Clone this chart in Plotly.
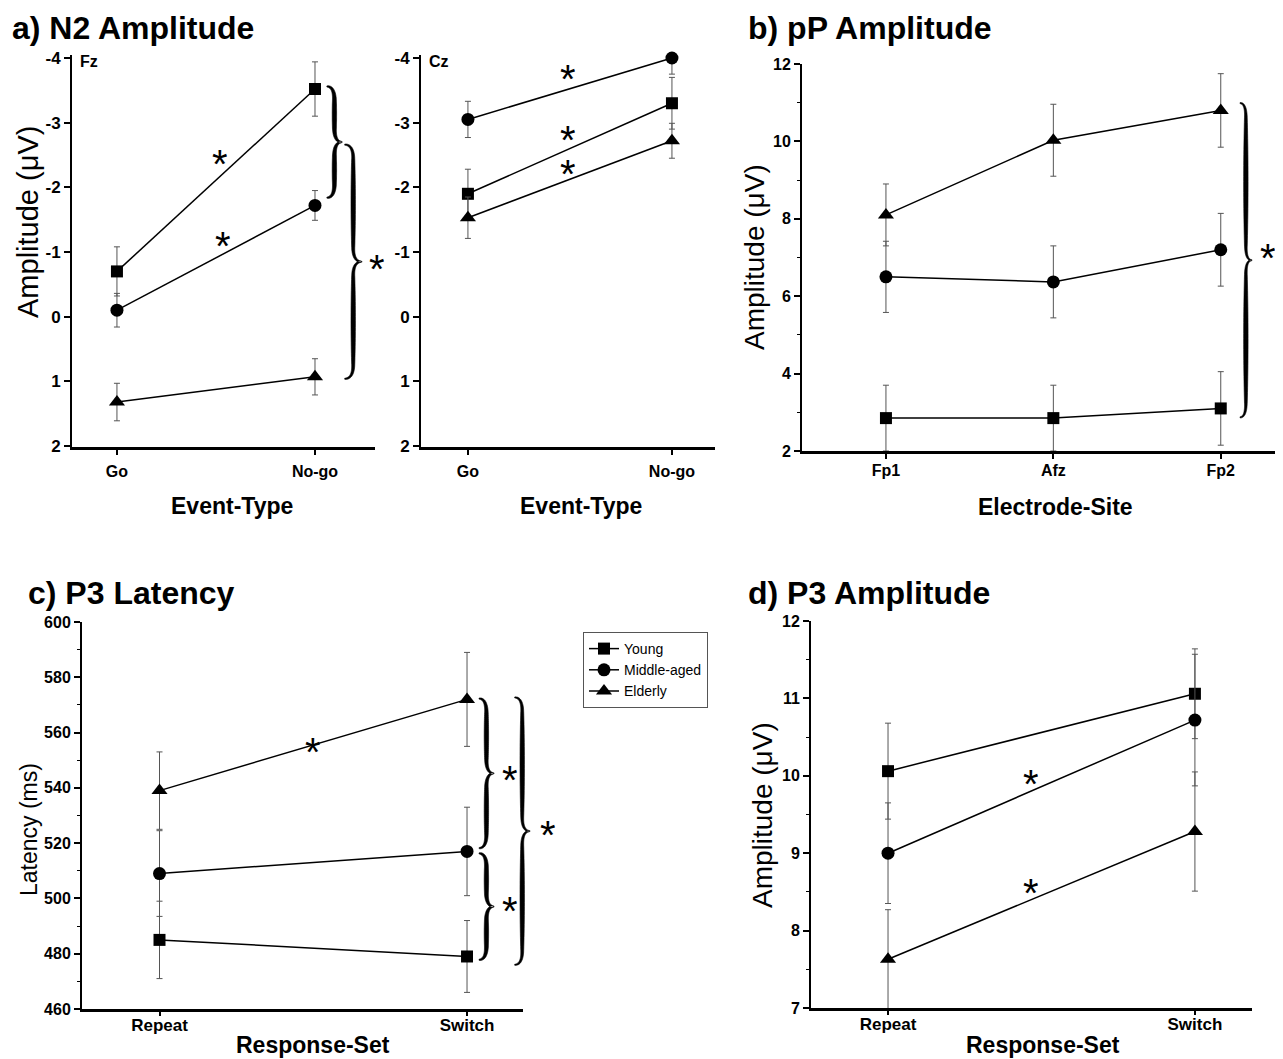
import math
import plotly.graph_objects as go

# page body has an 8px default margin: figure is shifted by OFF and sized to fit the window
OFF = 8
W, H = 1283 - OFF, 1059 - OFF
FONT = "Arial, Liberation Sans, sans-serif"

# ---------------- data ----------------
groups = ["Young", "Middle-aged", "Elderly"]
event_types = ["Go", "No-go"]
sites = ["Fp1", "Afz", "Fp2"]
response_sets = ["Repeat", "Switch"]

# a) N2 amplitude, Fz
fz_young = [-0.70, -3.52]
fz_young_err = [0.38, 0.42]
fz_middle = [-0.10, -1.72]
fz_middle_err = [0.26, 0.23]
fz_elderly = [1.32, 0.93]
fz_elderly_err = [0.29, 0.28]

# a) N2 amplitude, Cz
cz_young = [-1.90, -3.30]
cz_young_err = [0.38, 0.40]
cz_middle = [-3.05, -4.00]
cz_middle_err = [0.28, 0.25]
cz_elderly = [-1.53, -2.72]
cz_elderly_err = [0.32, 0.27]

# b) pP amplitude
b_young = [2.85, 2.85, 3.10]
b_young_err = [0.85, 0.85, 0.95]
b_middle = [6.50, 6.37, 7.20]
b_middle_err = [0.92, 0.93, 0.94]
b_elderly = [8.10, 10.03, 10.80]
b_elderly_err = [0.80, 0.93, 0.95]

# c) P3 latency
c_young = [485, 479]
c_young_err = [14, 13]
c_middle = [509, 517]
c_middle_err = [15.5, 16]
c_elderly = [539, 572]
c_elderly_err = [14, 17]

# d) P3 amplitude
d_young = [10.06, 11.06]
d_young_err = [0.62, 0.58]
d_middle = [9.00, 10.72]
d_middle_err = [0.65, 0.85]
d_elderly = [7.63, 9.28]
d_elderly_err = [0.64, 0.77]

# ---------------- layout of panels (window pixels) ----------------
PANELS = {
    "fz": dict(n="", px=(72, 375), py=(55, 447), xr=(-0.227, 1.303), yr=(2.015, -4.046),
               yfs=17, xfs=16, xlen=5, xstand=3),
    "cz": dict(n="2", px=(421, 715), py=(55, 447), xr=(-0.230, 1.211), yr=(2.015, -4.046),
               yfs=17, xfs=16, xlen=5, xstand=3),
    "b": dict(n="3", px=(802, 1278), py=(64, 451), xr=(-0.5015, 2.342), yr=(2, 12),
              yfs=16, xfs=16, xlen=5, xstand=-2),
    "c": dict(n="4", px=(82, 523), py=(622, 1009), xr=(-0.252, 1.182), yr=(460, 600),
              yfs=16, xfs=17, xlen=4, xstand=-5),
    "d": dict(n="5", px=(811, 1252), py=(621, 1008), xr=(-0.251, 1.186), yr=(7, 12),
              yfs=16, xfs=17, xlen=4, xstand=-5),
}


def to_px(p, xv, yv):
    P = PANELS[p]
    x = P["px"][0] + (xv - P["xr"][0]) / (P["xr"][1] - P["xr"][0]) * (P["px"][1] - P["px"][0])
    y = P["py"][1] - (yv - P["yr"][0]) / (P["yr"][1] - P["yr"][0]) * (P["py"][1] - P["py"][0])
    return x, y


def paper(x, y):
    return (x - OFF) / W, 1 - (y - OFF) / H


fig = go.Figure()

SYMBOLS = {"Young": "square", "Middle-aged": "circle", "Elderly": "triangle-up"}
SIZES = {"Young": 12, "Middle-aged": 13, "Elderly": 14}


def add_series(p, cats, name, vals, errs, legend=False):
    n = PANELS[p]["n"]
    fig.add_trace(go.Scatter(
        x=list(range(len(cats))), y=vals,
        mode="lines+markers", name=name, showlegend=legend,
        xaxis="x" + n, yaxis="y" + n,
        line=dict(color="black", width=1.5),
        marker=dict(symbol=SYMBOLS[name], size=SIZES[name], color="black"),
        error_y=dict(type="data", array=errs, visible=True, color="#555555", thickness=1, width=3),
        cliponaxis=False,
    ))


add_series("fz", event_types, "Young", fz_young, fz_young_err)
add_series("fz", event_types, "Middle-aged", fz_middle, fz_middle_err)
add_series("fz", event_types, "Elderly", fz_elderly, fz_elderly_err)
add_series("cz", event_types, "Young", cz_young, cz_young_err)
add_series("cz", event_types, "Middle-aged", cz_middle, cz_middle_err)
add_series("cz", event_types, "Elderly", cz_elderly, cz_elderly_err)
add_series("b", sites, "Young", b_young, b_young_err)
add_series("b", sites, "Middle-aged", b_middle, b_middle_err)
add_series("b", sites, "Elderly", b_elderly, b_elderly_err)
add_series("c", response_sets, "Young", c_young, c_young_err, legend=True)
add_series("c", response_sets, "Middle-aged", c_middle, c_middle_err, legend=True)
add_series("c", response_sets, "Elderly", c_elderly, c_elderly_err, legend=True)
add_series("d", response_sets, "Young", d_young, d_young_err)
add_series("d", response_sets, "Middle-aged", d_middle, d_middle_err)
add_series("d", response_sets, "Elderly", d_elderly, d_elderly_err)

# ---------------- axes ----------------
yticks = {
    "fz": ([-4, -3, -2, -1, 0, 1, 2], None),
    "cz": ([-4, -3, -2, -1, 0, 1, 2], None),
    "b": ([2, 4, 6, 8, 10, 12], 1),
    "c": ([460, 480, 500, 520, 540, 560, 580, 600], 10),
    "d": ([7, 8, 9, 10, 11, 12], 0.5),
}
xcats = {"fz": event_types, "cz": event_types, "b": sites, "c": response_sets, "d": response_sets}

layout_axes = {}
for p, P in PANELS.items():
    n = P["n"]
    x0, y0 = paper(P["px"][0], P["py"][1])
    x1, y1 = paper(P["px"][1], P["py"][0])
    cats = xcats[p]
    layout_axes["xaxis" + n] = dict(
        domain=[x0, min(x1, 1.0)], range=list(P["xr"]), anchor="y" + n, automargin=False,
        tickvals=list(range(len(cats))), ticktext=cats,
        showline=True, linecolor="black", linewidth=3,
        ticks="outside", ticklen=P["xlen"], tickwidth=1.5, tickcolor="black",
        ticklabelstandoff=P["xstand"],
        showgrid=False, zeroline=False, fixedrange=True,
        tickfont=dict(family=FONT, size=P["xfs"], color="black", weight="bold"),
    )
    tv, minor = yticks[p]
    ya = dict(
        domain=[y0, y1], range=list(P["yr"]), anchor="x" + n, automargin=False,
        tickvals=tv, ticktext=[str(v) for v in tv],
        showline=True, linecolor="black", linewidth=2,
        ticks="outside", ticklen=6, tickwidth=1.5, tickcolor="black",
        showgrid=False, zeroline=False, fixedrange=True,
        tickfont=dict(family=FONT, size=P["yfs"], color="black", weight="bold"),
    )
    if minor:
        ya["minor"] = dict(dtick=minor, ticks="outside", ticklen=3, tickwidth=1, tickcolor="black",
                           tick0=tv[0], showgrid=False)
    layout_axes["yaxis" + n] = ya

fig.update_layout(**layout_axes)

# ---------------- annotations ----------------
ann = []


def text_px(x, y, s, size, bold=False, angle=0, xanchor="center", yanchor="middle", **extra):
    px_, py_ = paper(x, y)
    d = dict(x=px_, y=py_, xref="paper", yref="paper", text=s, showarrow=False,
             xanchor=xanchor, yanchor=yanchor, textangle=angle,
             font=dict(family=FONT, size=size, color="black", weight="bold" if bold else "normal"))
    d.update(extra)
    ann.append(d)


# panel titles
text_px(10, OFF, "a) N2 Amplitude", 32, bold=True, xanchor="left", yanchor="top")
text_px(746, OFF, "b) pP Amplitude", 32, bold=True, xanchor="left", yanchor="top")
text_px(26, 593, "c) P3 Latency", 32, bold=True, xanchor="left")
text_px(746, 593, "d) P3 Amplitude", 32, bold=True, xanchor="left")

# axis titles
text_px(28, 222, "Amplitude (\u03bcV)", 29, angle=-90)
text_px(755, 257, "Amplitude (\u03bcV)", 28, angle=-90)
text_px(29, 830, "Latency (ms)", 23, angle=-90)
text_px(762, 815, "Amplitude (\u03bcV)", 28, angle=-90)
text_px(232, 506, "Event-Type", 23, bold=True)
text_px(581, 506, "Event-Type", 23, bold=True)
text_px(1055, 507, "Electrode-Site", 23, bold=True)
text_px(313, 1045, "Response-Set", 23, bold=True)
text_px(1043, 1045, "Response-Set", 23, bold=True)

# electrode labels
text_px(78, 61, "Fz", 16, bold=True, xanchor="left")
text_px(427, 61, "Cz", 16, bold=True, xanchor="left")

STAR = 40


def star(p, xv, yv):
    # compact box (glyph sits in the upper part of the line box) so nearby stars do not collide
    x, y = to_px(p, xv, yv)
    text_px(x, y, "*", STAR, height=32, valign="top")


star("fz", 0.52, -2.46)
star("fz", 0.535, -1.18)
star("fz", 1.313, -0.83)
star("cz", 0.49, -3.77)
star("cz", 0.49, -2.83)
star("cz", 0.49, -2.30)
star("b", 2.284, 7.15)
star("c", 0.498, 555)
star("c", 1.139, 545)
star("c", 1.141, 497.5)
star("c", 1.263, 525)
star("d", 0.4645, 9.97)
star("d", 0.4645, 8.56)


# ---------------- curly braces ----------------
def brace_shape(p, xv, ytop_v, ybot_v, wv, tmax=4.4, tmin=1.0, n=24):
    x0, ya = to_px(p, xv, ytop_v)
    x1, yb = to_px(p, xv + wv, ybot_v)
    ytop, ybot = min(ya, yb), max(ya, yb)
    w = x1 - x0
    ym = (ytop + ybot) / 2
    q = min(14.0, (ybot - ytop) / 6)
    xm = x0 + w * 0.5

    def quad(a, b, c):
        return [((1 - t) ** 2 * a[0] + 2 * (1 - t) * t * b[0] + t * t * c[0],
                 (1 - t) ** 2 * a[1] + 2 * (1 - t) * t * b[1] + t * t * c[1])
                for t in [i / n for i in range(n + 1)]]

    def line(a, b):
        return [(a[0] + (b[0] - a[0]) * i / n, a[1] + (b[1] - a[1]) * i / n) for i in range(n + 1)]

    upper = quad((x0, ytop), (xm, ytop), (xm, ytop + q)) + line((xm, ytop + q), (xm, ym - q))[1:] + \
        quad((xm, ym - q), (xm, ym), (x1, ym))[1:]
    lower = quad((x1, ym), (xm, ym), (xm, ym + q)) + line((xm, ym + q), (xm, ybot - q))[1:] + \
        quad((xm, ybot - q), (xm, ybot), (x0, ybot))[1:]

    def thick(pts):
        d = [0.0]
        for i in range(1, len(pts)):
            d.append(d[-1] + math.hypot(pts[i][0] - pts[i - 1][0], pts[i][1] - pts[i - 1][1]))
        L = d[-1] or 1
        return [tmin + (tmax - tmin) * max(0.0, math.sin(math.pi * s / L)) ** 0.6 for s in d]

    pts = upper + lower[1:]
    th = thick(upper) + thick(lower)[1:]
    left, right = [], []
    for i, (x, y) in enumerate(pts):
        a = pts[max(i - 1, 0)]
        b = pts[min(i + 1, len(pts) - 1)]
        tx, ty = b[0] - a[0], b[1] - a[1]
        ln = math.hypot(tx, ty) or 1
        nx, ny = -ty / ln, tx / ln
        h = th[i] / 2
        left.append((x + nx * h, y + ny * h))
        right.append((x - nx * h, y - ny * h))
    poly = left + right[::-1]
    path = "M " + " L ".join("%.5f,%.5f" % paper(x, y) for x, y in poly) + " Z"
    return dict(type="path", path=path, xref="paper", yref="paper",
                fillcolor="black", line=dict(width=0.6, color="black"), layer="above")


shapes = [
    brace_shape("fz", 1.06, -3.56, -1.84, 0.076),
    brace_shape("fz", 1.15, -2.66, 0.96, 0.086),
    brace_shape("b", 2.115, 10.99, 2.87, 0.07),
    brace_shape("c", 1.039, 572.3, 518.2, 0.048),
    brace_shape("c", 1.039, 516.3, 477.8, 0.048),
    brace_shape("c", 1.155, 572.7, 476.0, 0.049),
]

fig.update_layout(
    width=W, height=H, autosize=False,
    margin=dict(l=0, r=0, t=0, b=0, pad=0),
    paper_bgcolor="white", plot_bgcolor="white",
    annotations=ann, shapes=shapes,
    legend=dict(x=(583 - OFF) / W, y=1 - (632 - OFF) / H, xanchor="left", yanchor="top",
                bordercolor="#555555", borderwidth=1, bgcolor="white",
                font=dict(family=FONT, size=14, color="black"), tracegroupgap=0,
                itemwidth=30),
    font=dict(family=FONT, color="black"),
)

fig.write_html("out.html")
